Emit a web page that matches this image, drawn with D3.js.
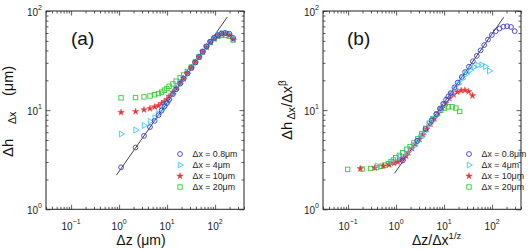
<!DOCTYPE html>
<html>
<head>
<meta charset="utf-8">
<script src="https://cdn.jsdelivr.net/npm/d3@7"></script>
<style>
  body { margin: 0; background: #fff; }
  svg { font-family: "Liberation Sans", Arial, sans-serif; }
</style>
</head>
<body>
<div id="viz"></div>
<script>
const width = 529;
const height = 250;

// legend names
const seriesNames = ['\u0394x = 0.8\u03bcm', '\u0394x = 4\u03bcm', '\u0394x = 10\u03bcm', '\u0394x = 20\u03bcm'];

// panel (a): dz in um, dh in um
const dzA = [1.1, 2.2, 3.3, 4.4, 5.5, 6.6, 7.7, 8.8, 9.9, 11, 13.2, 15.4, 18.7, 22, 26.4, 31.9, 38.5, 46.2, 55, 66, 79.2, 95.7, 114.4, 137.5, 165, 198, 237.6];
const blueA  = [2.65, 4.2, 5.5, 6.75, 7.8, 8.9, 9.9, 10.9, 11.8, 12.7, 14.5, 16.2, 18.5, 20.7, 23.4, 26.6, 30.2, 34.3, 38.7, 44, 49, 53.5, 57, 59.3, 60, 59, 53.5];
const cyanA  = [5.75, 6.3, 7.0, 7.7, 8.4, 9.2, 10.1, 11.0, 11.9, 12.8, 14.6, 16.3, 18.6, 20.8, 23.5, 26.7, 30.3, 34.3, 38.7, 43.5, 48.5, 53, 57, 59.5, 60, 57.5, 52];
const redA   = [9.5, 9.7, 10.1, 10.4, 10.8, 11.1, 11.7, 12.2, 12.8, 13.8, 15.2, 16.8, 18.9, 21.0, 23.7, 26.8, 30.4, 34.4, 38.8, 43.5, 48.5, 53, 56.5, 58.5, 59, 57, 52];
const greenA = [13.3, 13.4, 13.6, 13.9, 14.3, 14.7, 15.2, 15.9, 16.5, 17.4, 18.4, 19.6, 21.2, 22.6, 24.6, 27.2, 30.6, 34.5, 38.8, 43.3, 48, 52.5, 55.5, 57, 57, 55.5, 51];
const fitAx = [0.88, 180];
const fitAy = [2.21, 87];

// panel (b): rescaled
const blueBx  = [1.37, 2.74, 4.11, 5.48, 6.85, 8.22, 9.59, 11.0, 12.3, 13.7, 16.4, 19.2, 23.3, 27.4, 32.9, 39.7, 48, 57.6, 68.5, 82.2, 98.7, 119, 142.5, 171, 206, 247, 296];
const blueBy  = [3.1, 4.91, 6.44, 7.9, 9.13, 10.4, 11.6, 12.75, 13.8, 14.86, 17.0, 19.0, 21.6, 24.2, 27.4, 31.1, 35.3, 40.1, 45.3, 51.5, 57.3, 62.6, 66.7, 69.4, 70.2, 69.0, 62.6];
const cyanBx  = [0.40, 0.81, 1.21, 1.61, 2.01, 2.42, 2.82, 3.22, 3.62, 4.03, 4.83, 5.64, 6.84, 8.05, 9.66, 11.7, 14.1, 16.9, 20.1, 24.2, 29.0, 35.0, 41.9, 50.3, 60.4, 72.5, 87.0];
const cyanBy  = [2.75, 3.01, 3.35, 3.68, 4.02, 4.40, 4.83, 5.26, 5.69, 6.12, 6.98, 7.79, 8.89, 9.94, 11.2, 12.8, 14.5, 16.4, 18.5, 20.8, 23.2, 25.3, 27.2, 28.4, 28.7, 27.5, 24.9];
const redBx   = [0.18, 0.36, 0.54, 0.72, 0.90, 1.08, 1.26, 1.44, 1.62, 1.80, 2.16, 2.53, 3.07, 3.61, 4.33, 5.23, 6.31, 7.58, 9.02, 10.8, 13.0, 15.7, 18.8, 22.6, 27.1, 32.5, 39.0];
const redBy   = [2.57, 2.62, 2.73, 2.81, 2.92, 3.0, 3.16, 3.29, 3.46, 3.73, 4.1, 4.54, 5.1, 5.67, 6.4, 7.24, 8.21, 9.29, 10.5, 11.7, 13.1, 14.3, 15.3, 15.8, 15.9, 15.4, 14.0];
const greenBx = [0.098, 0.196, 0.294, 0.392, 0.49, 0.587, 0.685, 0.783, 0.881, 0.979, 1.17, 1.37, 1.66, 1.96, 2.35, 2.84, 3.43, 4.11, 4.9, 5.87, 7.05, 8.52, 10.2, 12.2, 14.7, 17.6, 21.1];
const greenBy = [2.53, 2.55, 2.58, 2.64, 2.72, 2.79, 2.89, 3.02, 3.14, 3.31, 3.5, 3.72, 4.03, 4.29, 4.67, 5.17, 5.81, 6.56, 7.37, 8.23, 9.12, 9.98, 10.5, 10.8, 10.8, 10.5, 9.7];
const fitBx = [0.93, 175];
const fitBy = [2.31, 86.5];

// axes
const xDomain = [0.03, 400];
const yDomain = [1, 100];
const xMajor = [0.1, 1, 10, 100];
const xMajorExp = ['\u22121', '0', '1', '2'];
const yMajor = [1, 10, 100];
const yMajorExp = ['0', '1', '2'];

const colors = ['#3b3bd0', '#33ccff', '#ee3333', '#33cc33'];
const symbols = ['circle', 'triangle', 'star', 'square'];

const svg = d3.select('#viz').append('svg')
  .attr('width', width)
  .attr('height', height);

// minor ticks for log axes
function minorTicks(domain) {
  const out = [];
  for (let e = -3; e <= 3; e++) {
    for (let m = 2; m <= 9; m++) {
      const v = m * Math.pow(10, e);
      if (v >= domain[0] && v <= domain[1]) out.push(v);
    }
  }
  return out;
}

function marker(g, type, cx, cy, color) {
  if (type === 'circle') {
    g.append('circle').attr('cx', cx).attr('cy', cy).attr('r', 2.4)
      .attr('fill', 'none').attr('stroke', color).attr('stroke-width', 0.9);
  } else if (type === 'square') {
    g.append('rect').attr('x', cx - 2.2).attr('y', cy - 2.2).attr('width', 4.4).attr('height', 4.4)
      .attr('fill', 'none').attr('stroke', color).attr('stroke-width', 0.9);
  } else if (type === 'triangle') {
    g.append('path').attr('d', d3.symbol(d3.symbolTriangle, 15)())
      .attr('transform', `translate(${cx},${cy}) rotate(90)`)
      .attr('fill', 'none').attr('stroke', color).attr('stroke-width', 0.9);
  } else {
    g.append('path').attr('d', d3.symbol(d3.symbolStar, 13)())
      .attr('transform', `translate(${cx},${cy})`)
      .attr('fill', color).attr('stroke', color).attr('stroke-width', 0.4);
  }
}

function drawPanel(p) {
  const x = d3.scaleLog().domain(xDomain).range([p.left, p.right]);
  const y = d3.scaleLog().domain(yDomain).range([p.bottom, p.top]);
  const g = svg.append('g');

  // ticks on all four sides, pointing inward
  const xMinor = minorTicks(xDomain);
  const yMinor = minorTicks(yDomain);
  const axes = [
    [d3.axisBottom(x), `translate(0,${p.bottom})`, xMajor, xMinor],
    [d3.axisTop(x), `translate(0,${p.top})`, xMajor, xMinor],
    [d3.axisLeft(y), `translate(${p.left},0)`, yMajor, yMinor],
    [d3.axisRight(y), `translate(${p.right},0)`, yMajor, yMinor]
  ];
  axes.forEach(([ax, tr, major, minor]) => {
    g.append('g').attr('transform', tr)
      .call(ax.tickValues(major).tickSize(-4.5).tickFormat(''))
      .call(s => s.select('.domain').remove())
      .selectAll('line').attr('stroke', '#333').attr('stroke-width', 0.8);
    g.append('g').attr('transform', tr)
      .call(ax.tickValues(minor).tickSize(-2.5).tickFormat(''))
      .call(s => s.select('.domain').remove())
      .selectAll('line').attr('stroke', '#333').attr('stroke-width', 0.8);
  });

  g.append('rect')
    .attr('x', p.left).attr('y', p.top)
    .attr('width', p.right - p.left).attr('height', p.bottom - p.top)
    .attr('fill', 'none').attr('stroke', '#222').attr('stroke-width', 1);

  // tick labels
  xMajor.forEach((v, i) => {
    const t = g.append('text').attr('x', x(v)).attr('y', p.bottom + 20.5)
      .attr('text-anchor', 'middle').attr('font-size', 10).attr('fill', '#222');
    t.append('tspan').text('10');
    t.append('tspan').attr('dy', -6).attr('font-size', 7).text(xMajorExp[i]);
  });
  yMajor.forEach((v, i) => {
    const t = g.append('text').attr('x', p.left - 4).attr('y', y(v) + 4.5)
      .attr('text-anchor', 'end').attr('font-size', 10).attr('fill', '#222');
    t.append('tspan').text('10');
    t.append('tspan').attr('dy', -5.5).attr('font-size', 7).text(yMajorExp[i]);
  });

  // fit line
  g.append('path')
    .attr('d', d3.line().x(d => x(d[0])).y(d => y(d[1]))(d3.zip(p.fitX, p.fitY)))
    .attr('fill', 'none').attr('stroke', '#111').attr('stroke-width', 0.8);

  // data, drawn from the last series so blue ends on top as in the figure
  for (let s = p.series.length - 1; s >= 0; s--) {
    const ser = p.series[s];
    const sg = g.append('g');
    ser.xs.forEach((xv, i) => marker(sg, symbols[s], x(xv), y(ser.ys[i]), colors[s]));
  }

  // legend
  seriesNames.forEach((name, i) => {
    const ly = p.legendY + i * 11;
    marker(g, symbols[i], p.legendX, ly, colors[i]);
    g.append('text').attr('x', p.legendX + 12.5).attr('y', ly + 3)
      .attr('font-size', 8.8).attr('fill', '#222').text(name);
  });

  // panel tag
  g.append('text').attr('x', p.tagX).attr('y', 45)
    .attr('font-size', 19).attr('fill', '#111').text(p.tag);

  return g;
}

const gA = drawPanel({
  left: 46, right: 244, top: 11, bottom: 209.3,
  fitX: fitAx, fitY: fitAy,
  series: [
    {xs: dzA, ys: blueA},
    {xs: dzA, ys: cyanA},
    {xs: dzA, ys: redA},
    {xs: dzA, ys: greenA}
  ],
  legendX: 180, legendY: 154, tag: '(a)', tagX: 71
});

const gB = drawPanel({
  left: 323, right: 521, top: 11, bottom: 209.3,
  fitX: fitBx, fitY: fitBy,
  series: [
    {xs: blueBx, ys: blueBy},
    {xs: cyanBx, ys: cyanBy},
    {xs: redBx, ys: redBy},
    {xs: greenBx, ys: greenBy}
  ],
  legendX: 469, legendY: 154, tag: '(b)', tagX: 347
});

// axis titles
gA.append('text').attr('x', 141).attr('y', 245).attr('text-anchor', 'middle')
  .attr('font-size', 14).attr('fill', '#111').text('\u0394z (\u03bcm)');

const yTa = gA.append('text').attr('transform', 'translate(13,157) rotate(-90)')
  .attr('font-size', 15).attr('fill', '#111');
yTa.append('tspan').attr('x', 0).text('\u0394h');
yTa.append('tspan').attr('x', 33).attr('dy', 3).attr('font-size', 10.5).text('\u0394x');
yTa.append('tspan').attr('x', 61).attr('dy', -3).attr('font-size', 14.5).text('(\u03bcm)');

const xTb = gB.append('text').attr('x', 412).attr('y', 245)
  .attr('font-size', 14).attr('fill', '#111');
xTb.append('tspan').text('\u0394z/\u0394x');
xTb.append('tspan').attr('dy', -6).attr('font-size', 9.5).text('1/z');

const yTb = gB.append('text').attr('transform', 'translate(292,140) rotate(-90)')
  .attr('font-size', 15).attr('fill', '#111');
yTb.append('tspan').attr('x', 0).text('\u0394h');
yTb.append('tspan').attr('x', 20.5).attr('dy', 3).attr('font-size', 10.5).text('\u0394x');
yTb.append('tspan').attr('x', 33).attr('dy', -3).attr('font-size', 14.5).text('/\u0394x');
yTb.append('tspan').attr('dy', -6).attr('font-size', 10).text('\u03b2');
</script>
</body>
</html>
